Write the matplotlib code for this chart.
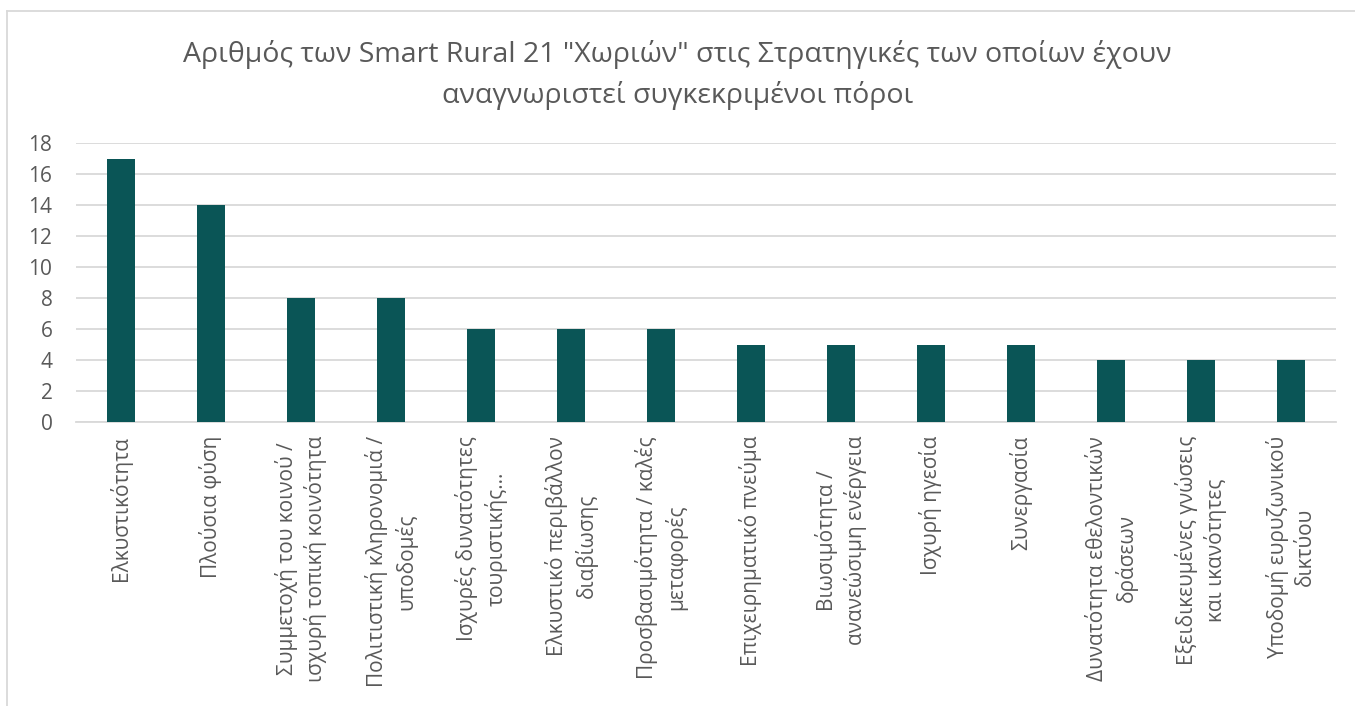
import matplotlib
matplotlib.use("Agg")
import matplotlib.pyplot as plt
from matplotlib.lines import Line2D

plt.rcParams['font.family'] = ['Open Sans', 'DejaVu Sans']

title = 'Αριθμός των Smart Rural 21 "Χωριών" στις Στρατηγικές των οποίων έχουν\nαναγνωριστεί συγκεκριμένοι πόροι'

categories = [
    "Ελκυστικότητα",
    "Πλούσια φύση",
    "Συμμετοχή του κοινού /\nισχυρή τοπική κοινότητα",
    "Πολιτιστική κληρονομιά /\nυποδομές",
    "Ισχυρές δυνατότητες\nτουριστικής…",
    "Ελκυστικό περιβάλλον\nδιαβίωσης",
    "Προσβασιμότητα / καλές\nμεταφορές",
    "Επιχειρηματικό πνεύμα",
    "Βιωσιμότητα /\nανανεώσιμη ενέργεια",
    "Ισχυρή ηγεσία",
    "Συνεργασία",
    "Δυνατότητα εθελοντικών\nδράσεων",
    "Εξειδικευμένες γνώσεις\nκαι ικανότητες",
    "Υποδομή ευρυζωνικού\nδικτύου",
]
values = [17, 14, 8, 8, 6, 6, 6, 5, 5, 5, 5, 4, 4, 4]
yticks = [0, 2, 4, 6, 8, 10, 12, 14, 16, 18]

text_color = '#595959'
bar_color = '#0a5556'
grid_color = '#d9d9d9'

fig = plt.figure(figsize=(13.55, 7.06), dpi=100)
ax = fig.add_axes([76 / 1355, 1 - 422 / 706, 1260 / 1355, 279 / 706])

x = range(len(categories))
ax.bar(x, values, width=0.31, color=bar_color, zorder=3)

ax.set_xlim(-0.5, len(categories) - 0.5)
ax.set_ylim(0, 18)
ax.set_yticks(yticks)
ax.set_xticks(list(x))
ax.set_xticklabels(categories, rotation=90, ha='center', va='top',
                   multialignment='center', fontsize=15, color=text_color,
                   linespacing=1.38)
ax.tick_params(axis='y', labelsize=15, labelcolor=text_color, length=0, pad=17)
ax.tick_params(axis='x', length=0, pad=10)

ax.grid(axis='y', color=grid_color, linewidth=1.3, zorder=0)
for side in ['top', 'right', 'left']:
    ax.spines[side].set_visible(False)
ax.spines['bottom'].set_color(grid_color)
ax.spines['bottom'].set_linewidth(1.3)

fig.text(0.5, 1 - 75 / 706, title, ha='center', va='center',
         fontsize=20.5, color=text_color, linespacing=1.55)

# chart frame
fig.add_artist(Line2D([7 / 1355, 7 / 1355], [0, 1 - 11 / 706],
                      color=grid_color, linewidth=1.3, transform=fig.transFigure))
fig.add_artist(Line2D([7 / 1355, 1], [1 - 11 / 706, 1 - 11 / 706],
                      color=grid_color, linewidth=1.3, transform=fig.transFigure))

fig.savefig('out.png', dpi=100)
